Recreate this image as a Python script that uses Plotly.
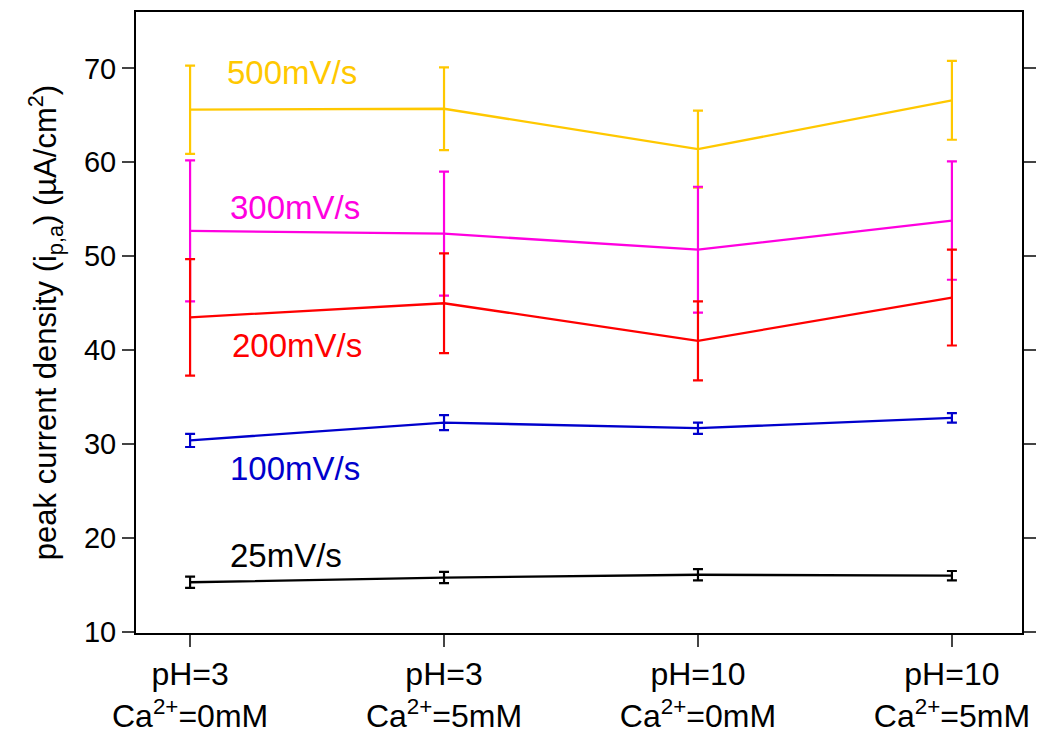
import plotly.graph_objects as go

categories = [0, 1, 2, 3]
tick_labels = ["pH=3<br>Ca<sup>2+</sup>=0mM", "pH=3<br>Ca<sup>2+</sup>=5mM",
               "pH=10<br>Ca<sup>2+</sup>=0mM", "pH=10<br>Ca<sup>2+</sup>=5mM"]

y_500 = [65.6, 65.7, 61.4, 66.6]
e_500 = [4.7, 4.4, 4.1, 4.2]
y_300 = [52.7, 52.4, 50.7, 53.8]
e_300 = [7.5, 6.6, 6.7, 6.3]
y_200 = [43.5, 45.0, 41.0, 45.6]
e_200 = [6.2, 5.3, 4.2, 5.1]
y_100 = [30.4, 32.3, 31.7, 32.8]
e_100 = [0.7, 0.8, 0.6, 0.5]
y_25 = [15.3, 15.8, 16.1, 16.0]
e_25 = [0.6, 0.6, 0.6, 0.5]

series = [
    ("500mV/s", y_500, e_500, "#FFC800", 0.138, 69.6),
    ("300mV/s", y_300, e_300, "#FF00E0", 0.15, 55.2),
    ("200mV/s", y_200, e_200, "#FF0000", 0.157, 40.5),
    ("100mV/s", y_100, e_100, "#0000CC", 0.15, 27.4),
    ("25mV/s", y_25, e_25, "#000000", 0.15, 18.2),
]

FONT = "Liberation Sans, Arial, sans-serif"

fig = go.Figure()
for name, ys, es, color, lx, ly in series:
    fig.add_trace(go.Scatter(
        x=categories, y=ys, mode="lines", name=name,
        line=dict(color=color, width=2.3),
        error_y=dict(type="data", array=es, visible=True, color=color,
                     thickness=2.2, width=5),
        showlegend=False,
    ))
    fig.add_annotation(x=lx, y=ly, xref="x", yref="y", text=name,
                       showarrow=False, xanchor="left", yanchor="middle",
                       font=dict(size=33, color=color, family=FONT))

fig.update_layout(
    width=1038, height=733,
    margin=dict(l=136, r=16, t=12, b=100),
    plot_bgcolor="white", paper_bgcolor="white",
    font=dict(family=FONT, color="black", size=29),
)
fig.update_xaxes(
    range=[-0.213, 3.276], tickmode="array", tickvals=categories,
    ticktext=tick_labels, ticks="outside", ticklen=12, tickwidth=2,
    showline=True, linecolor="black", linewidth=2, mirror=True,
    showgrid=False, zeroline=False, tickfont=dict(size=32),
    automargin=False,
)
fig.update_yaxes(
    range=[9.9, 76], tickvals=[10, 20, 30, 40, 50, 60, 70],
    ticks="outside", ticklen=12, tickwidth=2,
    showline=True, linecolor="black", linewidth=2, mirror="ticks",
    showgrid=False, zeroline=False, tickfont=dict(size=29),
    automargin=False,
    title=dict(text="peak current density (i<sub>p,a</sub>) (µA/cm<sup>2</sup>)",
               font=dict(size=31), standoff=18),
)

fig.write_html("out.html")
